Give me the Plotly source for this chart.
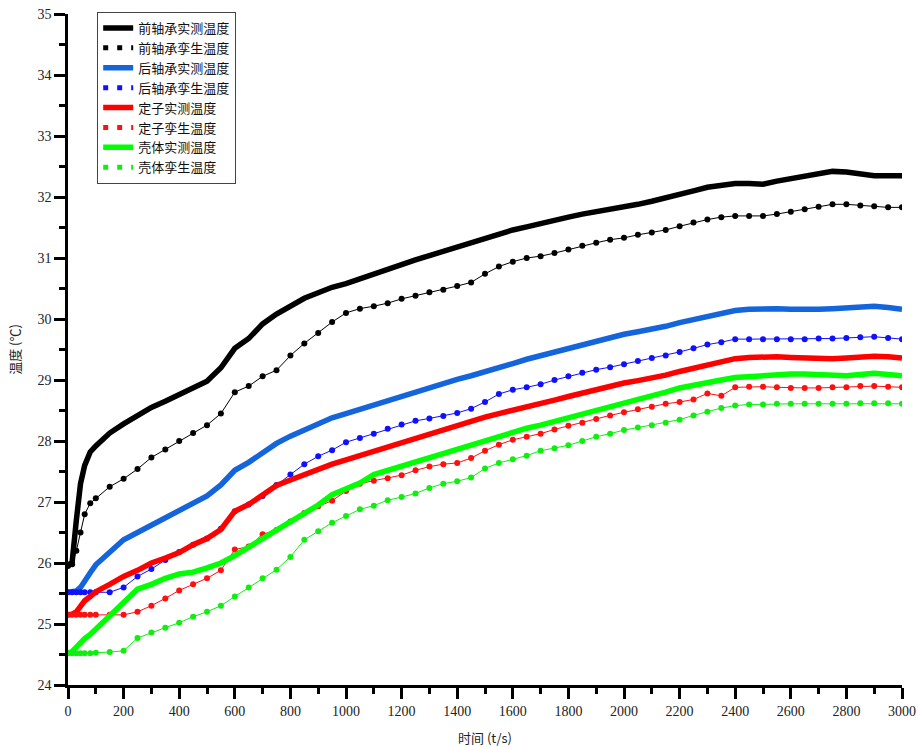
import plotly.graph_objects as go

# time (s)
t = [0, 15, 30, 45, 60, 80, 100] + list(range(150, 3001, 50))

front_meas = [25.95, 26.02, 26.7, 27.3, 27.6, 27.82, 27.92, 28.13, 28.28, 28.42, 28.55, 28.65, 28.76, 28.87, 28.98,
              29.2, 29.52, 29.68, 29.92, 30.08, 30.22, 30.34, 30.43, 30.52, 30.58, 30.66, 30.74, 30.83, 30.9, 30.97,
              31.04, 31.11, 31.18, 31.26, 31.34, 31.41, 31.46, 31.51, 31.57, 31.62, 31.67, 31.72, 31.76, 31.79, 31.82,
              31.88, 31.93, 31.98, 32.04, 32.1, 32.16, 32.2, 32.22, 32.22, 32.21, 32.26, 32.3, 32.34, 32.38, 32.42,
              32.41, 32.38, 32.35, 32.35, 32.35]
front_twin = [25.95, 25.98, 26.2, 26.5, 26.8, 26.98, 27.06, 27.25, 27.38, 27.54, 27.73, 27.86, 28.0, 28.13, 28.26,
              28.45, 28.8, 28.9, 29.06, 29.16, 29.4, 29.6, 29.77, 29.95, 30.1, 30.17, 30.21, 30.26, 30.33, 30.38,
              30.44, 30.48, 30.54, 30.6, 30.74, 30.86, 30.94, 31.0, 31.03, 31.08, 31.14, 31.2, 31.25, 31.3, 31.33,
              31.38, 31.42, 31.46, 31.52, 31.58, 31.63, 31.67, 31.69, 31.69, 31.69, 31.72, 31.76, 31.8, 31.84, 31.88,
              31.88, 31.86, 31.85, 31.83, 31.83]
rear_meas = [25.52, 25.52, 25.54, 25.6, 25.72, 25.84, 25.97, 26.18, 26.38, 26.5, 26.62, 26.73, 26.85, 26.98, 27.1,
             27.28, 27.52, 27.65, 27.8, 27.96, 28.08, 28.18, 28.29, 28.38, 28.45, 28.52, 28.59, 28.66, 28.74, 28.81,
             28.89, 28.95, 29.01, 29.07, 29.13, 29.2, 29.27, 29.34, 29.4, 29.46, 29.52, 29.58, 29.64, 29.69, 29.75,
             29.79, 29.83, 29.88, 29.94, 29.99, 30.05, 30.1, 30.14, 30.16, 30.17, 30.17, 30.16, 30.15, 30.16, 30.17,
             30.18, 30.2, 30.21, 30.19, 30.16]
rear_twin = [25.52, 25.52, 25.52, 25.52, 25.52, 25.52, 25.52, 25.52, 25.6, 25.78, 25.9, 26.05, 26.18, 26.3, 26.4,
             26.56, 26.85, 26.96, 27.1, 27.28, 27.45, 27.62, 27.75, 27.85, 27.98, 28.05, 28.12, 28.2, 28.27, 28.33,
             28.37, 28.41, 28.46, 28.53, 28.64, 28.77, 28.84, 28.88, 28.93, 29.0, 29.06, 29.12, 29.17, 29.21, 29.26,
             29.31, 29.36, 29.4, 29.46, 29.52, 29.58, 29.62, 29.67, 29.67, 29.67, 29.67, 29.67, 29.67, 29.68, 29.68,
             29.69, 29.7, 29.71, 29.69, 29.67]
stator_meas = [25.15, 25.16, 25.2, 25.3, 25.38, 25.45, 25.53, 25.65, 25.78, 25.88, 26.0, 26.08, 26.17, 26.3, 26.4,
               26.55, 26.85, 26.96, 27.12, 27.27, 27.36, 27.45, 27.53, 27.62, 27.69, 27.76, 27.83, 27.9, 27.98, 28.05,
               28.13, 28.2, 28.27, 28.33, 28.39, 28.45, 28.5, 28.55, 28.61, 28.67, 28.73, 28.79, 28.84, 28.89, 28.95,
               28.99, 29.03, 29.08, 29.14, 29.19, 29.25, 29.29, 29.35, 29.37, 29.38, 29.38, 29.37, 29.36, 29.35, 29.35,
               29.36, 29.38, 29.39, 29.38, 29.36]
stator_twin = [25.15, 25.15, 25.15, 25.15, 25.15, 25.15, 25.15, 25.15, 25.15, 25.2, 25.3, 25.42, 25.55, 25.65, 25.75,
               25.88, 26.22, 26.27, 26.47, 26.54, 26.68, 26.82, 26.93, 27.02, 27.18, 27.3, 27.35, 27.39, 27.44, 27.52,
               27.58, 27.62, 27.64, 27.72, 27.84, 27.94, 28.02, 28.07, 28.12, 28.19, 28.25, 28.3, 28.36, 28.42, 28.47,
               28.52, 28.56, 28.61, 28.64, 28.68, 28.78, 28.74, 28.88, 28.89, 28.89, 28.88, 28.87, 28.87, 28.87, 28.88,
               28.88, 28.9, 28.9, 28.89, 28.88]
shell_meas = [24.52, 24.55, 24.62, 24.7, 24.76, 24.83, 24.92, 25.15, 25.36, 25.57, 25.65, 25.75, 25.82, 25.85, 25.92,
              26.0, 26.12, 26.27, 26.4, 26.54, 26.68, 26.82, 26.95, 27.12, 27.22, 27.31, 27.45, 27.52, 27.58, 27.66,
              27.74, 27.8, 27.87, 27.94, 28.01, 28.08, 28.14, 28.21, 28.26, 28.32, 28.38, 28.44, 28.5, 28.56, 28.62,
              28.68, 28.72, 28.8, 28.87, 28.92, 28.97, 29.0, 29.04, 29.06, 29.08, 29.09, 29.1, 29.1, 29.09, 29.08,
              29.07, 29.09, 29.11, 29.09, 29.07]
shell_twin = [24.52, 24.52, 24.52, 24.52, 24.52, 24.52, 24.53, 24.54, 24.56, 24.77, 24.86, 24.94, 25.02, 25.12, 25.2,
              25.3, 25.45, 25.6, 25.75, 25.89, 26.1, 26.38, 26.52, 26.66, 26.77, 26.88, 26.94, 27.03, 27.08, 27.14,
              27.23, 27.3, 27.34, 27.4, 27.55, 27.64, 27.7, 27.76, 27.84, 27.88, 27.93, 28.0, 28.07, 28.12, 28.18,
              28.22, 28.26, 28.3, 28.35, 28.42, 28.48, 28.54, 28.58, 28.6, 28.6, 28.61, 28.61, 28.61, 28.61, 28.61,
              28.61, 28.62, 28.62, 28.62, 28.61]

names = ["前轴承实测温度", "前轴承孪生温度", "后轴承实测温度", "后轴承孪生温度",
         "定子实测温度", "定子孪生温度", "壳体实测温度", "壳体孪生温度"]
series = [front_meas, front_twin, rear_meas, rear_twin, stator_meas, stator_twin, shell_meas, shell_twin]
colors = ["#000000", "#000000", "#1464dc", "#1010ff", "#ff0000", "#ff1010", "#00ff00", "#10ee10"]

fig = go.Figure()
for i, (nm, ys, c) in enumerate(zip(names, series, colors)):
    if i % 2 == 0:
        fig.add_trace(go.Scatter(x=t, y=ys, mode="lines", name=nm,
                                 line=dict(color=c, width=5.5), showlegend=True))
    else:
        fig.add_trace(go.Scatter(x=t, y=ys, mode="lines+markers", name=nm,
                                 line=dict(color=c, width=1),
                                 marker=dict(color=c, size=6),
                                 showlegend=False))
        # legend sample as dotted line
        fig.add_trace(go.Scatter(x=[None], y=[None], mode="lines", name=nm,
                                 line=dict(color=c, width=5, dash="5px,9px"),
                                 showlegend=True))

tickfont = dict(family="Liberation Serif", size=14, color="#222")
axis_common = dict(showline=True, linecolor="black", linewidth=2.5, ticks="outside",
                   ticklen=11, tickwidth=2.5, tickcolor="black", showgrid=False, zeroline=False,
                   mirror=False, tickfont=tickfont, automargin=False)

fig.update_xaxes(range=[0, 3000], tickmode="array", tickvals=list(range(0, 3001, 200)),
                 minor=dict(ticks="outside", ticklen=6, tickwidth=2.5, tickcolor="black",
                            tickvals=list(range(100, 3000, 200))),
                 title=dict(text="时间 (t/s)", font=dict(family="Noto Sans CJK SC", size=13, color="#222"),
                            standoff=17),
                 **axis_common)
fig.update_yaxes(range=[24, 35], tickmode="array", tickvals=list(range(24, 36)),
                 minor=dict(ticks="outside", ticklen=6, tickwidth=2.5, tickcolor="black",
                            tickvals=[v + 0.5 for v in range(24, 35)]),
                 title=dict(text="温度 (℃)", font=dict(family="Noto Sans CJK SC", size=13, color="#222"),
                            standoff=14),
                 **axis_common)

fig.update_layout(
    width=918, height=747,
    margin=dict(l=68, r=16, t=14, b=62),
    plot_bgcolor="white", paper_bgcolor="white",
    legend=dict(x=0.035, y=1.003, xanchor="left", yanchor="top",
                bgcolor="white", bordercolor="#444", borderwidth=1,
                font=dict(family="Noto Sans CJK SC", size=13, color="#111"),
                tracegroupgap=0, itemwidth=30),
)

# remove the default page margin so the figure fills the window exactly
fig.write_html("out.html",
               config={"displayModeBar": False},
               post_script="document.body.style.margin='0';document.body.style.overflow='hidden';")
